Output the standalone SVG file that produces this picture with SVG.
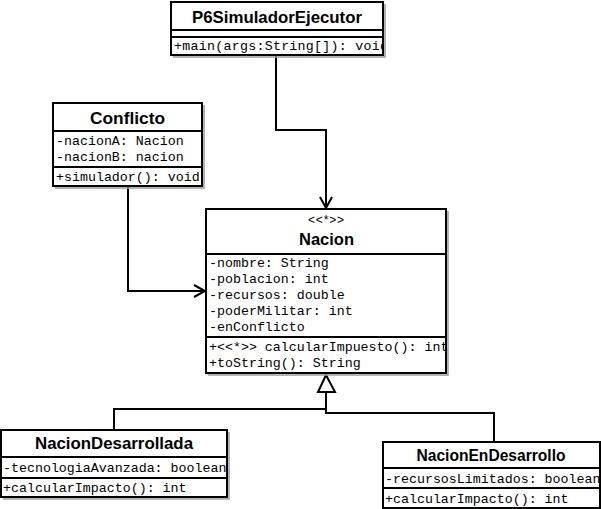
<svg xmlns="http://www.w3.org/2000/svg" width="601" height="509" viewBox="0 0 601 509">
<style>
.box{fill:#fff;stroke:#000;stroke-width:2}
.sh{fill:none;stroke:#9a9a9a;stroke-width:1.5}
.sep{stroke:#000;stroke-width:2}
.title{font-family:"Liberation Sans",Arial,sans-serif;font-weight:bold;font-size:17px;text-anchor:middle;fill:#000}
.ster{font-family:"Liberation Sans",Arial,sans-serif;font-size:12px;text-anchor:middle;fill:#000}
.mono{font-family:"Liberation Mono","Courier New",monospace;font-size:13.3px;fill:#000}
.con{fill:none;stroke:#000;stroke-width:2}
</style>
<defs>
<marker id="open" markerWidth="14" markerHeight="14" refX="12" refY="7" orient="auto" markerUnits="userSpaceOnUse">
<path d="M1,1 L12,7 L1,13" fill="none" stroke="#000" stroke-width="2"/>
</marker>
<clipPath id="cP6"><rect x="171" y="2" width="212" height="53"/></clipPath>
<clipPath id="cCo"><rect x="53" y="103" width="149" height="83"/></clipPath>
<clipPath id="cNa"><rect x="206" y="209" width="240" height="164"/></clipPath>
<clipPath id="cND"><rect x="1" y="430" width="226" height="67"/></clipPath>
<clipPath id="cNE"><rect x="383" y="442" width="217" height="66"/></clipPath>
</defs>
<g id="connectors">
<path class="con" d="M276,55 V130 H326 V208" marker-end="url(#open)"/>
<path class="con" d="M128,186 V291 H205" marker-end="url(#open)"/>
<path class="con" d="M326,393 V409 H114 V430"/>
<path class="con" d="M326,393 V413 H494 V442"/>
<polygon points="326,375 318,392 335,392" fill="#fff" stroke="#000" stroke-width="2"/>
</g>
<g id="P6SimuladorEjecutor">
<path class="sh" d="M385,4 V57 H173"/>
<rect class="box" x="171" y="2" width="212" height="53"/>
<line class="sep" x1="171" y1="30" x2="383" y2="30"/>
<line class="sep" x1="171" y1="37" x2="383" y2="37"/>
<text class="title" x="277" y="23" textLength="170" lengthAdjust="spacingAndGlyphs">P6SimuladorEjecutor</text>
<g clip-path="url(#cP6)"><text class="mono" x="174" y="50" textLength="214" lengthAdjust="spacing">+main(args:String[]): void</text></g>
</g>
<g id="Conflicto">
<path class="sh" d="M204,105 V188 H55"/>
<rect class="box" x="53" y="103" width="149" height="83"/>
<line class="sep" x1="53" y1="131" x2="202" y2="131"/>
<line class="sep" x1="53" y1="167" x2="202" y2="167"/>
<text class="title" x="127.500" y="124" textLength="75" lengthAdjust="spacingAndGlyphs">Conflicto</text>
<g clip-path="url(#cCo)">
<text class="mono" x="56" y="145">-nacionA: Nacion</text>
<text class="mono" x="56" y="161">-nacionB: nacion</text>
<text class="mono" x="56" y="181">+simulador(): void</text>
</g>
</g>
<g id="Nacion">
<path class="sh" d="M448,211 V375 H208"/>
<rect class="box" x="206" y="209" width="240" height="164"/>
<line class="sep" x1="206" y1="254" x2="446" y2="254"/>
<line class="sep" x1="206" y1="337" x2="446" y2="337"/>
<text class="ster" x="326" y="224" textLength="36" lengthAdjust="spacing">&lt;&lt;*&gt;&gt;</text>
<text class="title" x="326.500" y="245" textLength="55" lengthAdjust="spacingAndGlyphs">Nacion</text>
<g clip-path="url(#cNa)">
<text class="mono" x="209" y="267">-nombre: String</text>
<text class="mono" x="209" y="283">-poblacion: int</text>
<text class="mono" x="209" y="299">-recursos: double</text>
<text class="mono" x="209" y="315">-poderMilitar: int</text>
<text class="mono" x="209" y="331">-enConflicto</text>
<text class="mono" x="209" y="351">+&lt;&lt;*&gt;&gt; calcularImpuesto(): int</text>
<text class="mono" x="209" y="367">+toString(): String</text>
</g>
</g>
<g id="NacionDesarrollada">
<path class="sh" d="M229,432 V499 H3"/>
<rect class="box" x="1" y="430" width="226" height="67"/>
<line class="sep" x1="1" y1="457" x2="227" y2="457"/>
<line class="sep" x1="1" y1="478" x2="227" y2="478"/>
<text class="title" x="114" y="449" textLength="158" lengthAdjust="spacingAndGlyphs">NacionDesarrollada</text>
<g clip-path="url(#cND)">
<text class="mono" x="3" y="472">-tecnologiaAvanzada: boolean</text>
<text class="mono" x="3" y="492">+calcularImpacto(): int</text>
</g>
</g>
<g id="NacionEnDesarrollo">
<rect class="box" x="383" y="442" width="217" height="66"/>
<line class="sep" x1="383" y1="468" x2="600" y2="468"/>
<line class="sep" x1="383" y1="488" x2="600" y2="488"/>
<text class="title" x="491" y="461" textLength="149" lengthAdjust="spacingAndGlyphs">NacionEnDesarrollo</text>
<g clip-path="url(#cNE)">
<text class="mono" x="385" y="483">-recursosLimitados: boolean</text>
<text class="mono" x="385" y="503">+calcularImpacto(): int</text>
</g>
</g>
</svg>
